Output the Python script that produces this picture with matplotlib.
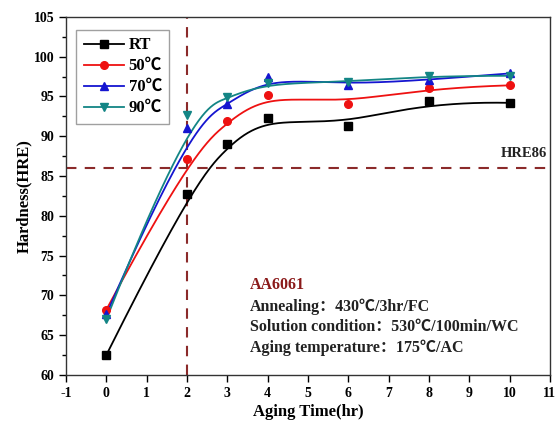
import numpy as np
import matplotlib
matplotlib.use("Agg")
import matplotlib.pyplot as plt

# ---- data ----
aging_time = [0, 2, 3, 4, 6, 8, 10]
series_names = ["RT", "50℃", "70℃", "90℃"]
hard_rt = [62.5, 82.8, 89.0, 92.3, 91.3, 94.4, 94.2]
hard_50 = [68.2, 87.1, 91.9, 95.2, 94.0, 96.1, 96.4]
hard_70 = [67.6, 91.0, 94.0, 97.4, 96.4, 97.1, 97.9]
hard_90 = [67.0, 92.7, 94.9, 96.7, 96.8, 97.6, 97.6]
hre_limit = 86
limit_time = 2
x_ticks = list(range(-1, 12))
y_ticks = list(range(60, 106, 5))

colors = ["black", "#ee1111", "#1515d0", "#138585"]
markers = ["s", "o", "^", "v"]

FONT = ["Liberation Serif", "Noto Sans CJK SC", "DejaVu Sans"]
plt.rcParams["font.family"] = FONT
plt.rcParams["font.weight"] = "bold"
plt.rcParams["axes.unicode_minus"] = False


def bspline(xs, ys, k=3, num=300):
    P = np.column_stack([xs, ys]).astype(float)
    n = len(P)
    inner = np.arange(1, n - k)
    t = np.concatenate([np.zeros(k + 1), inner, np.full(k + 1, n - k)]).astype(float)
    u = np.linspace(0, n - k, num)
    u[-1] -= 1e-9

    def N(i, p, uu):
        if p == 0:
            return np.where((t[i] <= uu) & (uu < t[i + 1]), 1.0, 0.0)
        a = np.zeros_like(uu)
        d1 = t[i + p] - t[i]
        d2 = t[i + p + 1] - t[i + 1]
        if d1 > 0:
            a += (uu - t[i]) / d1 * N(i, p - 1, uu)
        if d2 > 0:
            a += (t[i + p + 1] - uu) / d2 * N(i + 1, p - 1, uu)
        return a

    B = np.array([N(i, k, u) for i in range(n)])
    C = B.T @ P
    return C[:, 0], C[:, 1]


fig = plt.figure(figsize=(5.6, 4.24), dpi=100)
ax = fig.add_axes([0.118, 0.116, 0.864, 0.844])

dark_red = "#8b2a2a"
ax.axhline(hre_limit, color=dark_red, lw=1.5, ls=(0, (5, 4)), zorder=1)
ax.axvline(limit_time, color=dark_red, lw=1.5, ls=(0, (5, 4)), zorder=1)

for name, vals, c, m in zip(series_names, [hard_rt, hard_50, hard_70, hard_90], colors, markers):
    cx, cy = bspline(aging_time, vals)
    ax.plot(cx, cy, color=c, lw=1.3, zorder=2)
    ax.plot(aging_time, vals, ls="none", marker=m, color=c, ms=5.5, zorder=3)
    ax.plot([], [], color=c, lw=1.3, marker=m, ms=5.5, label=name)

ax.set_xlim(-1, 11)
ax.set_ylim(60, 105)
ax.set_xticks(x_ticks)
ax.set_yticks(y_ticks)
ax.set_yticks(np.arange(62.5, 105, 5), minor=True)
ax.tick_params(axis="both", which="major", direction="out", length=5, width=1, labelsize=10)
ax.tick_params(axis="y", which="minor", direction="out", length=3, width=1)
for lab in ax.get_xticklabels() + ax.get_yticklabels():
    lab.set_fontweight("bold")
for s in ax.spines.values():
    s.set_linewidth(1.0)
    s.set_color("#333333")

ax.set_xlabel("Aging Time(hr)", fontsize=12, fontweight="bold", labelpad=3)
ax.set_ylabel("Hardness(HRE)", fontsize=12, fontweight="bold", labelpad=1)

leg = ax.legend(loc="upper left", bbox_to_anchor=(0.021, 0.964), borderaxespad=0, frameon=True,
                fancybox=False, edgecolor="#888888", handlelength=2.4, handletextpad=0.3,
                borderpad=0.45, labelspacing=0.3,
                prop={"family": FONT, "weight": "bold", "size": 12})
leg.get_frame().set_linewidth(1.0)

ax.text(10.93, 87.0, "HRE86", ha="right", va="bottom", fontsize=10.5, fontweight="bold", color="#222222")

tx = 3.55
ax.text(tx, 71.3, "AA6061", color="#8b1a1a", fontsize=11.5, fontweight="bold", va="center")
ax.text(tx, 68.6, "Annealing：430℃/3hr/FC", color="#222222", fontsize=11.5, fontweight="bold", va="center")
ax.text(tx, 66.0, "Solution condition：530℃/100min/WC", color="#222222", fontsize=11.5, fontweight="bold", va="center")
ax.text(tx, 63.4, "Aging temperature：175℃/AC", color="#222222", fontsize=11.5, fontweight="bold", va="center")

fig.savefig("out.png", dpi=100)
